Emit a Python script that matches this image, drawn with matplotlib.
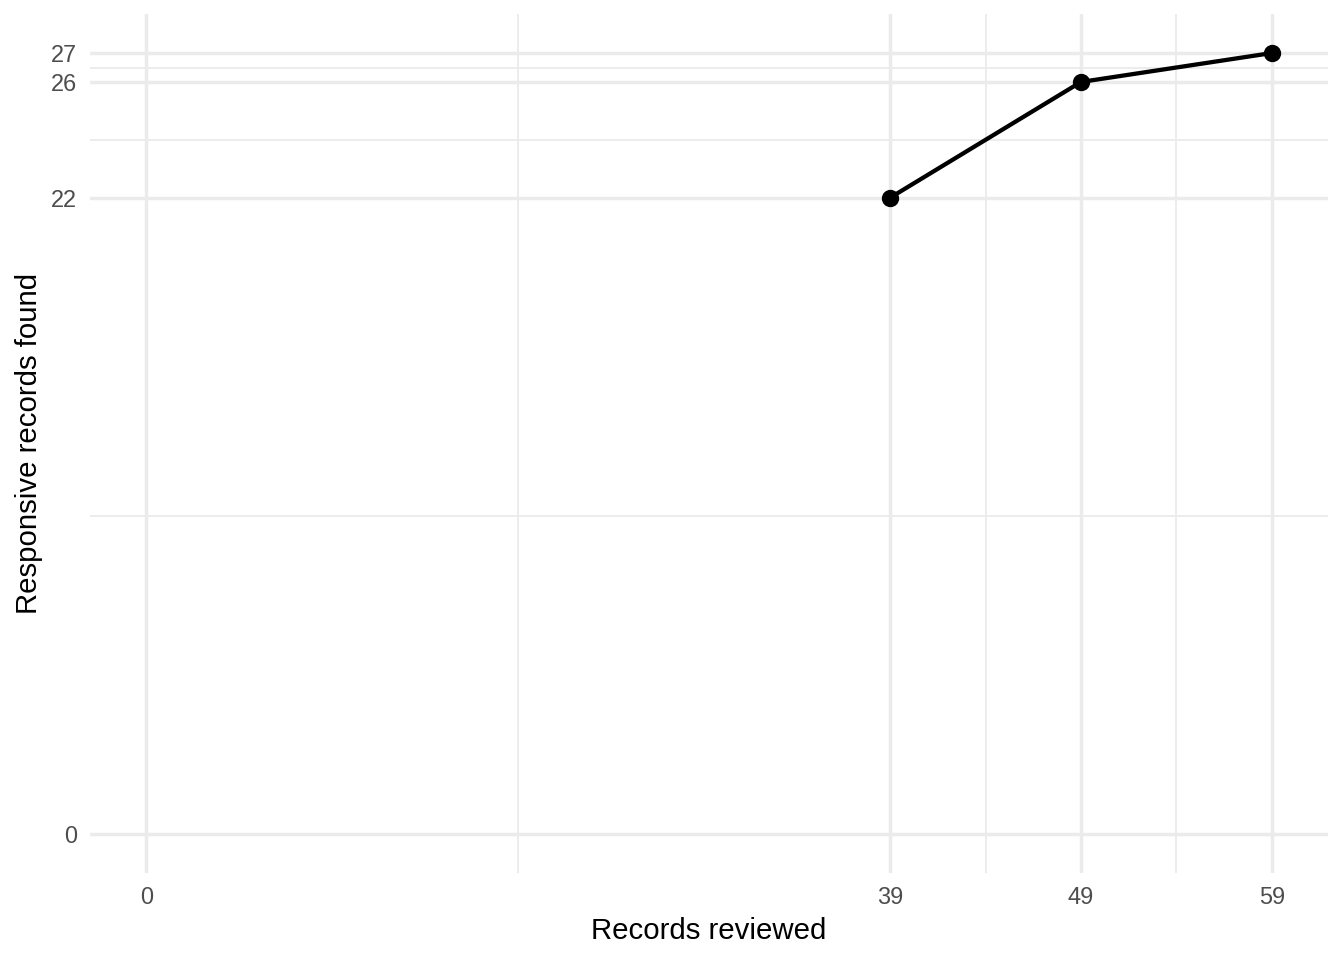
import matplotlib
matplotlib.use("Agg")
import matplotlib.pyplot as plt
from matplotlib.ticker import FixedLocator

# data
reviewed = [39, 49, 59]
found = [22, 26, 27]
x_breaks = [0, 39, 49, 59]
y_breaks = [0, 22, 26, 27]

plt.rcParams['font.family'] = ['Liberation Sans', 'DejaVu Sans']

fig = plt.figure(figsize=(7, 5), dpi=192)
ax = fig.add_axes([90 / 1344, 1 - 873 / 960, (1328 - 90) / 1344, (873 - 14) / 960])

# ggplot-like expansion of 5%
xmax, ymax = max(x_breaks), max(y_breaks)
ax.set_xlim(-0.05 * xmax, xmax * 1.05)
ax.set_ylim(-0.05 * ymax, ymax * 1.05)

# minor breaks sit halfway between major ones
x_minor = [(a + b) / 2 for a, b in zip(x_breaks[:-1], x_breaks[1:])]
y_minor = [(a + b) / 2 for a, b in zip(y_breaks[:-1], y_breaks[1:])]

ax.xaxis.set_major_locator(FixedLocator(x_breaks))
ax.yaxis.set_major_locator(FixedLocator(y_breaks))
ax.xaxis.set_minor_locator(FixedLocator(x_minor))
ax.yaxis.set_minor_locator(FixedLocator(y_minor))

ax.grid(which='major', color='#EBEBEB', linewidth=1.3)
ax.grid(which='minor', color='#EBEBEB', linewidth=0.7)
ax.set_axisbelow(True)

for s in ax.spines.values():
    s.set_visible(False)

ax.tick_params(which='both', length=0)
ax.tick_params(axis='x', labelsize=8.8, labelcolor='#4D4D4D', pad=5)
ax.tick_params(axis='y', labelsize=8.8, labelcolor='#4D4D4D', pad=5)

ax.plot(reviewed, found, color='black', linewidth=1.6, marker='o',
        markersize=5.5, zorder=3)

ax.set_xlabel('Records reviewed', fontsize=11, color='black', labelpad=3)
ax.set_ylabel('Responsive records found', fontsize=11, color='black', labelpad=3)

fig.savefig('out.png', dpi=192, facecolor='white')
